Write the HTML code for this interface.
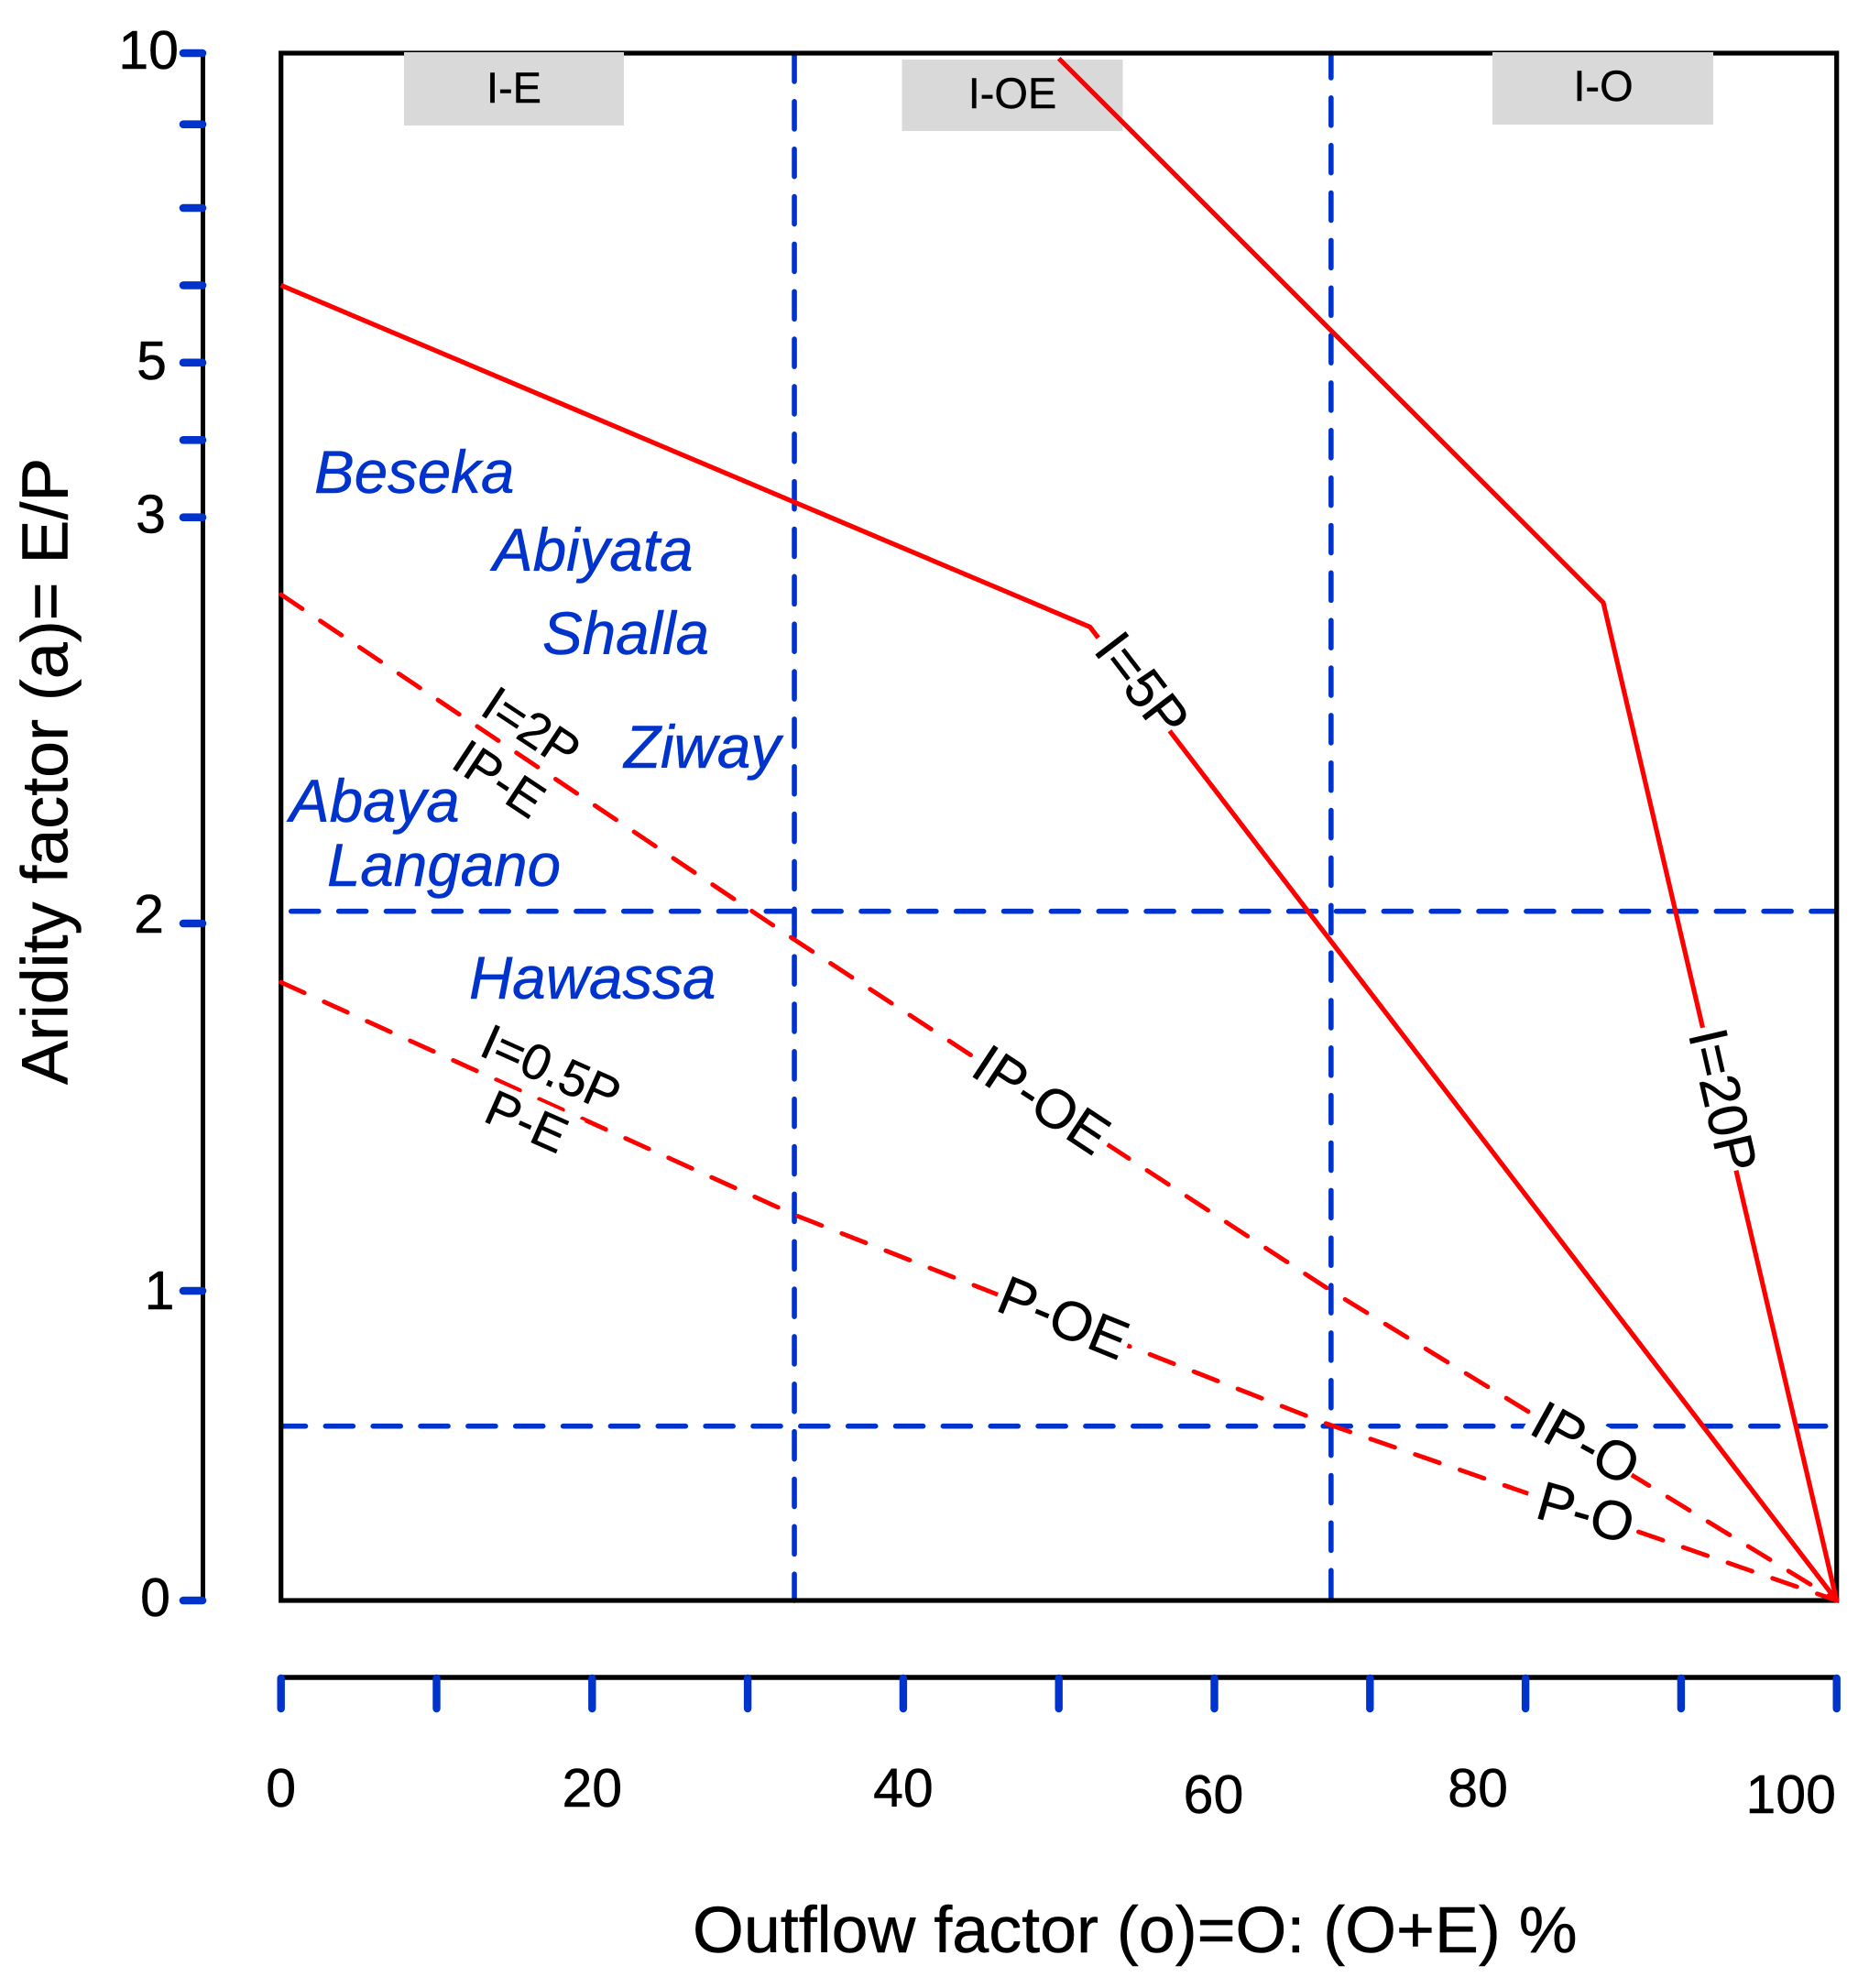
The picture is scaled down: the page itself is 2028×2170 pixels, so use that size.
<!DOCTYPE html>
<html lang="en">
<head>
<meta charset="utf-8">
<title>Aridity factor vs outflow factor</title>
<style>
html,body{margin:0;padding:0;background:#fff;}
svg{display:block;font-family:"Liberation Sans",Arial,sans-serif;}
.lake{font-style:italic;font-size:65.5px;fill:#0033cc;stroke:#0033cc;stroke-width:.5px;}
.zone{font-size:47px;fill:#000;text-anchor:middle;stroke:#000;stroke-width:.4px;}
.lbl{font-size:60px;fill:#000;text-anchor:middle;stroke:#000;stroke-width:.5px;}
.lbl-small{font-size:54.5px;}
.tick{font-size:59px;fill:#000;stroke:#000;stroke-width:.5px;}
.title{font-size:71.8px;fill:#000;stroke:#000;stroke-width:.5px;}
</style>
</head>
<body>
<svg id="chart" xmlns="http://www.w3.org/2000/svg" width="2028" height="2170" viewBox="0 0 2028 2170">
  <rect x="0" y="0" width="2028" height="2170" fill="#fff"/>
  <g id="blue-layer"></g>
  <rect x="306.7" y="58" width="1698" height="1689" fill="none" stroke="#000" stroke-width="5.2"/>
  <g>
    <rect x="441" y="57" width="240" height="80" fill="#d9d9d9"/>
    <rect x="984.5" y="65" width="241" height="78" fill="#d9d9d9"/>
    <rect x="1629" y="57" width="241" height="79" fill="#d9d9d9"/>
    <text class="zone" x="561" y="112">I-E</text>
    <text class="zone" x="1105" y="118">I-OE</text>
    <text class="zone" x="1750" y="110">I-O</text>
  </g>
  <g id="series-layer"></g>
  <g id="axis-layer"></g>
  <g fill="#fff">
    <rect transform="translate(1243 743) rotate(52.6)" x="-64" y="-26" width="128" height="52"/>
    <rect transform="translate(1880 1199) rotate(77)" x="-80" y="-26" width="160" height="52"/>
    <rect transform="translate(580 792) rotate(33.5)" x="-62" y="-26" width="124" height="52"/>
    <rect transform="translate(545 850) rotate(33.5)" x="-62" y="-26" width="124" height="52"/>
    <rect transform="translate(601.5 1166) rotate(24)" x="-90" y="-26" width="180" height="52"/>
    <rect transform="translate(575 1224) rotate(24)" x="-58" y="-26" width="116" height="52"/>
    <rect transform="translate(1137 1200) rotate(33.5)" x="-87" y="-26" width="174" height="52"/>
    <rect transform="translate(1161 1438) rotate(22.2)" x="-76" y="-26" width="152" height="52"/>
    <rect transform="translate(1728.4 1572.6) rotate(29)" x="-64" y="-26" width="128" height="52"/>
    <rect transform="translate(1728 1646.6) rotate(16)" x="-62" y="-26" width="124" height="52"/>
  </g>
  <g>
    <text class="lbl" transform="translate(1247 747) rotate(52.6)" y="21">I=5P</text>
    <text class="lbl" transform="translate(1881 1201) rotate(77)" y="21">I=20P</text>
    <text class="lbl lbl-small" transform="translate(580 794) rotate(33.5)" y="19">I=2P</text>
    <text class="lbl lbl-small" transform="translate(545 850) rotate(33.5)" y="19">IP-E</text>
    <text class="lbl lbl-small" transform="translate(601.5 1166) rotate(24)" y="19">I=0.5P</text>
    <text class="lbl lbl-small" transform="translate(575 1224) rotate(24)" y="19">P-E</text>
    <text class="lbl" transform="translate(1137 1200) rotate(33.5)" y="21">IP-OE</text>
    <text class="lbl" transform="translate(1161 1438) rotate(22.2)" y="21">P-OE</text>
    <text class="lbl" transform="translate(1731 1575) rotate(29)" y="21">IP-O</text>
    <text class="lbl" transform="translate(1731 1650.6) rotate(16)" y="21">P-O</text>
  </g>
  <g>
    <text class="lake" x="343" y="538">Beseka</text>
    <text class="lake" x="538" y="623">Abiyata</text>
    <text class="lake" x="592" y="714">Shalla</text>
    <text class="lake" x="681" y="838">Ziway</text>
    <text class="lake" x="316" y="897">Abaya</text>
    <text class="lake" x="357" y="967">Langano</text>
    <text class="lake" x="512" y="1090">Hawassa</text>
  </g>
  <text class="title" transform="translate(73.6 1184) rotate(-90)" x="0" y="0">Aridity factor (a)= E/P</text>
  <text class="title" x="756" y="2131">Outflow factor (o)=O: (O+E) %</text>
</svg>
<script>
// Chart data
const xTickValues = [0, 10, 20, 30, 40, 50, 60, 70, 80, 90, 100];
const xTickLabels = [0, 20, 40, 60, 80, 100];
const yTickValues = [0, 1, 2, 3, 4, 5, 6, 7, 8, 10];
const yTickLabels = [0, 1, 2, 3, 5, 10];

const i20pX = [50, 85, 100];
const i20pY = [9.85, 2.79, 0];
const i5pX = [0, 52, 100];
const i5pY = [6, 2.73, 0];
const i2pX = [0, 33, 67.5, 100];
const i2pY = [2.81, 1.956, 1, 0];
const i05pX = [0, 33, 67.2, 100];
const i05pY = [1.84, 1.207, 0.571, 0];

const boundaryOutflow = [33, 67.5];
const boundaryAridity = [2.03, 0.563];

const NS = 'http://www.w3.org/2000/svg';

function xScale(v) {
  return 306.7 + v * 16.98;
}

// The source chart's vertical axis has unequal spacing, so it is piecewise linear.
function yScale(v) {
  const domain = [0, 1, 2, 3, 7, 8, 10];
  const range = [1747, 1409, 1008, 564.7, 227, 135.7, 58];
  for (let i = 0; i < domain.length - 1; i++) {
    if (v <= domain[i + 1]) {
      const t = (v - domain[i]) / (domain[i + 1] - domain[i]);
      return range[i] + t * (range[i + 1] - range[i]);
    }
  }
  return range[range.length - 1];
}

function make(tag, parent, attrs) {
  const el = document.createElementNS(NS, tag);
  for (const k in attrs) el.setAttribute(k, attrs[k]);
  parent.appendChild(el);
  return el;
}

function pathFrom(xs, ys) {
  return xs.map((x, i) => (i ? 'L' : 'M') + xScale(x).toFixed(1) + ' ' + yScale(ys[i]).toFixed(1)).join(' ');
}

function drawBoundaries() {
  const layer = document.getElementById('blue-layer');
  const style = { fill: 'none', stroke: '#0033cc', 'stroke-width': 5.6, 'stroke-linecap': 'round', 'stroke-dasharray': '30 21.85' };
  const offsets = [1.2, -2.8];
  boundaryOutflow.forEach((v, i) => {
    const x = xScale(v);
    const el = make('path', layer, Object.assign({ d: 'M' + x + ' 1747 L' + x + ' 58', 'stroke-dashoffset': offsets[i] }, style));
    
    
  });
  boundaryAridity.forEach((v, i) => {
    const y = yScale(v);
    const d = i === 0 ? 'M317.8 ' + y + ' L2004 ' + y : 'M1992.7 ' + y + ' L307 ' + y;
    const el = make('path', layer, Object.assign({ d: d }, style));
    
    
  });
}

function drawSeries() {
  const layer = document.getElementById('series-layer');
  const solid = { fill: 'none', stroke: '#ff0000', 'stroke-width': 5.2, 'stroke-linejoin': 'miter' };
  const dashed = { fill: 'none', stroke: '#ff0000', 'stroke-width': 4.9, 'stroke-linecap': 'round', 'stroke-dasharray': '28 23.6' };
  const s20 = make('path', layer, Object.assign({ d: pathFrom(i20pX, i20pY) }, solid));
  
  
  const s5 = make('path', layer, Object.assign({ d: pathFrom(i5pX, i5pY) }, solid));
  
  
  const s2 = make('path', layer, Object.assign({ d: pathFrom(i2pX, i2pY) }, dashed));
  
  
  const s05 = make('path', layer, Object.assign({ d: pathFrom(i05pX, i05pY) }, dashed));
  
  
}

function drawAxes() {
  const layer = document.getElementById('axis-layer');
  const yLine = make('line', layer, { x1: 221.5, x2: 221.5, y1: yScale(10), y2: yScale(0), stroke: '#000', 'stroke-width': 5 });
  
  
  const xLine = make('line', layer, { x1: xScale(0), x2: xScale(100), y1: 1831, y2: 1831, stroke: '#000', 'stroke-width': 5.6 });
  
  

  yTickValues.forEach(v => {
    const y = yScale(v);
    const t = make('line', layer, { x1: 200, x2: 221, y1: y, y2: y, stroke: '#0033cc', 'stroke-width': 8.6, 'stroke-linecap': 'round' });
    
    
  });
  xTickValues.forEach(v => {
    const x = xScale(v);
    const t = make('line', layer, { x1: x, x2: x, y1: 1832, y2: 1865, stroke: '#0033cc', 'stroke-width': 8.4, 'stroke-linecap': 'round' });
    
    
  });

  const yRight = { 0: 186, 1: 190.5, 2: 179, 3: 181, 5: 182, 10: 195 };
  const yDrop = { 0: 17, 1: 20, 2: 10, 3: 17, 5: 18, 10: 17 };
  yTickLabels.forEach(v => {
    const txt = make('text', layer, { class: 'tick', x: yRight[v], y: yScale(v) + yDrop[v], 'text-anchor': 'end' });
    txt.textContent = String(v);
    
    
  });

  const xNudge = { 0: 0, 20: 0, 40: 0, 60: -1, 80: -52, 100: -50 };
  const xDrop = { 0: 0, 20: 0, 40: 0, 60: 7, 80: 0, 100: 7 };
  xTickLabels.forEach(v => {
    const txt = make('text', layer, { class: 'tick', x: xScale(v) + xNudge[v], y: 1972 + xDrop[v], 'text-anchor': 'middle' });
    txt.textContent = String(v);
    
    
  });
}

drawBoundaries();
drawSeries();
drawAxes();
</script>
</body>
</html>
